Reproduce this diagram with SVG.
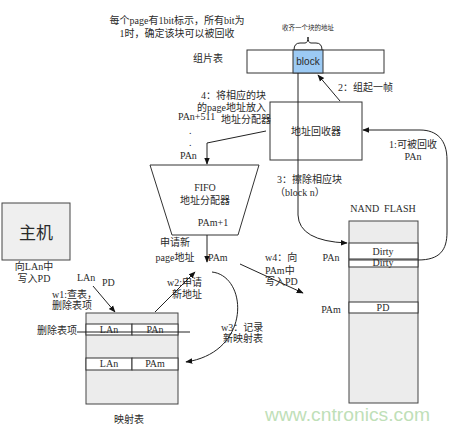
<svg xmlns="http://www.w3.org/2000/svg" width="450" height="430" viewBox="0 0 450 430">
<style>
text{font-family:"Liberation Serif","Noto Sans CJK SC",serif;font-size:10px;fill:#2a2a2a}
.c{text-anchor:middle}
.box{fill:#fff;stroke:#333;stroke-width:1}
.gray{fill:#ececec;stroke:#444;stroke-width:1}
.ln{fill:none;stroke:#222;stroke-width:1}
.wm{font-family:"Liberation Sans",sans-serif;font-size:19px;fill:#bfe0b8}
</style>
<defs>
<marker id="ah" viewBox="0 0 10 10" refX="9" refY="5" markerWidth="7" markerHeight="7" orient="auto" markerUnits="userSpaceOnUse">
<path d="M0,1 L10,5 L0,9 z" fill="#111"/>
</marker>
</defs>
<rect width="450" height="430" fill="#fff"/>

<g id="notes">
<text class="c" x="177" y="24">每个page有1bit标示，所有bit为</text>
<text class="c" x="177" y="37">1时，确定该块可以被回收</text>
</g>

<g id="zupian">
<text class="c" x="208" y="62">组片表</text>
<rect class="box" x="247" y="50" width="137" height="23"/>
<rect x="293" y="50" width="30" height="23" fill="#9ccaf4" stroke="#333"/>
<text class="c" x="308" y="65" style="font-family:'Liberation Sans',sans-serif;font-size:10px">block</text>
<text class="c" x="308" y="30" style="font-size:6.5px">收齐一个块的地址</text>
<path class="ln" d="M294,50 Q294,43 300,43 L305,43 Q308,43 308,37 Q308,43 311,43 L316,43 Q322,43 322,50"/>
</g>

<g id="recycler">
<rect class="box" x="270" y="102" width="92" height="58"/>
<text class="c" x="316" y="135">地址回收器</text>
</g>

<g id="fifo">
<path class="box" d="M150,165 L259,165 L238,235 L172,235 Z"/>
<text class="c" x="205" y="191">FIFO</text>
<text class="c" x="205" y="204">地址分配器</text>
<text class="c" x="213" y="226">PAm+1</text>
</g>

<g id="host">
<rect x="2" y="203" width="68" height="57" fill="#efefef" stroke="#444"/>
<text class="c" x="36" y="239" style="font-size:17px">主机</text>
</g>

<g id="maptable">
<rect class="gray" x="86" y="313" width="92" height="91"/>
<rect class="box" x="86" y="324" width="46" height="11"/>
<rect class="box" x="132" y="324" width="46" height="11"/>
<rect class="box" x="86" y="358" width="46" height="12"/>
<rect class="box" x="132" y="358" width="46" height="12"/>
<text class="c" x="109" y="333">LAn</text>
<text class="c" x="155" y="333">PAn</text>
<text class="c" x="109" y="367">LAn</text>
<text class="c" x="155" y="367">PAm</text>
<line class="ln" x1="77" y1="332" x2="190" y2="332"/>
<text class="c" x="57" y="334">删除表项</text>
<text class="c" x="129" y="423">映射表</text>
</g>

<g id="nand">
<text class="c" x="383" y="212">NAND&#160;&#160;FLASH</text>
<rect class="gray" x="349" y="221" width="69" height="182"/>
<rect class="box" x="349" y="243" width="69" height="16"/>
<rect class="box" x="349" y="260" width="69" height="7"/>
<rect class="box" x="349" y="302" width="69" height="11"/>
<text class="c" x="383" y="255">Dirty</text>
<text class="c" x="383" y="266">Dirty</text>
<text class="c" x="383" y="311">PD</text>
<text class="c" x="331" y="261">PAn</text>
<text class="c" x="331" y="313">PAm</text>
</g>

<g id="connectors">
<line class="ln" x1="340" y1="101" x2="318" y2="75" marker-end="url(#ah)"/>
<path class="ln" d="M298,73 L298,215 Q299,241 347,243" marker-end="url(#ah)"/>
<path class="ln" d="M418,260 C440,260 447,250 447,232 L447,160 C447,140 437,130 420,130 L363,130" marker-end="url(#ah)"/>
<path class="ln" d="M266,131 L207,143 L207,164" marker-end="url(#ah)"/>
<line class="ln" x1="207" y1="235" x2="207" y2="262" marker-end="url(#ah)"/>
<line class="ln" x1="93" y1="286" x2="115" y2="312" marker-end="url(#ah)"/>
<line class="ln" x1="155" y1="312" x2="195" y2="272" marker-end="url(#ah)"/>
<path class="ln" d="M212,272 C248,276 252,352 186,362" marker-end="url(#ah)"/>
<line class="ln" x1="240" y1="264" x2="303" y2="293" marker-end="url(#ah)"/>
</g>

<g id="labels">
<text x="338" y="91">2：组起一帧</text>
<text x="201" y="99">4：将相应的块</text>
<text x="197" y="111">的page地址放入</text>
<text x="221" y="123">地址分配器</text>
<text x="178" y="120">PAn+511</text>
<text x="189" y="134">.</text>
<text x="189" y="146">.</text>
<text x="180" y="159">PAn</text>
<text class="c" x="413" y="148">1:可被回收</text>
<text class="c" x="413" y="160">PAn</text>
<text x="277" y="183">3：擦除相应块</text>
<text x="275" y="196">（block n）</text>
<text class="c" x="175" y="246">申请新</text>
<text class="c" x="175" y="261">page地址</text>
<text x="208" y="261">PAm</text>
<text class="c" x="34" y="270">向LAn中</text>
<text class="c" x="34" y="282">写入PD</text>
<text x="77" y="281">LAn</text>
<text x="102" y="286">PD</text>
<text x="52" y="298">w1:查表，</text>
<text x="52" y="309">删除表项</text>
<text x="167" y="286">w2:申请</text>
<text x="172" y="298">新地址</text>
<text x="221" y="331">w3：记录</text>
<text x="223" y="342">新映射表</text>
<text x="265" y="261">w4：向</text>
<text x="265" y="274">PAm中</text>
<text x="265" y="285">写入PD</text>
</g>

<text class="wm" x="265" y="421" textLength="165" lengthAdjust="spacingAndGlyphs">www.cntronics.com</text>
</svg>
